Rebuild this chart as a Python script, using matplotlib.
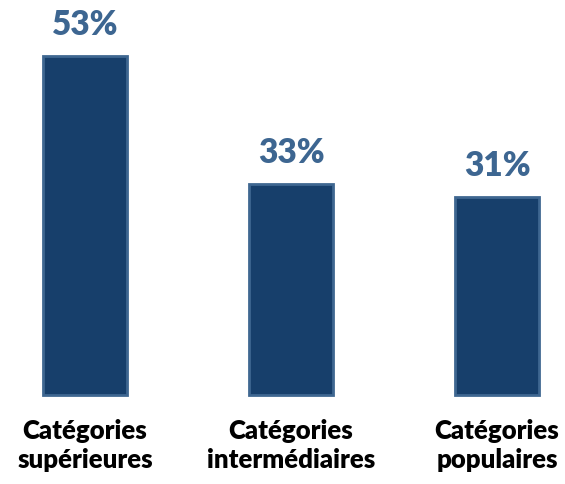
import matplotlib.pyplot as plt

categories = ['Catégories\nsupérieures', 'Catégories\nintermédiaires', 'Catégories\npopulaires']
values = [53, 33, 31]

plt.rcParams['font.family'] = ['Lato', 'DejaVu Sans']

fig = plt.figure(figsize=(5.65, 4.85), dpi=100)
ax = fig.add_axes([0, 0, 1, 1])

x = range(len(values))
ax.bar(x, values, width=0.41, color='#173f6b', edgecolor='#3f6791', linewidth=2)

for xi, v in zip(x, values):
    ax.text(xi, v + 2.5, f'{v}%', ha='center', va='bottom',
            fontsize=24, fontweight='heavy', color='#3d6691')

for xi, lab in zip(x, categories):
    ax.text(xi, -3.6, lab, ha='center', va='top', fontsize=18.5,
            fontweight='heavy', color='black', linespacing=1.25)

ax.set_xlim(-0.4126, 2.330)
ax.set_ylim(-13.9, 61.875)
ax.axis('off')

fig.savefig('out.png', dpi=100)
